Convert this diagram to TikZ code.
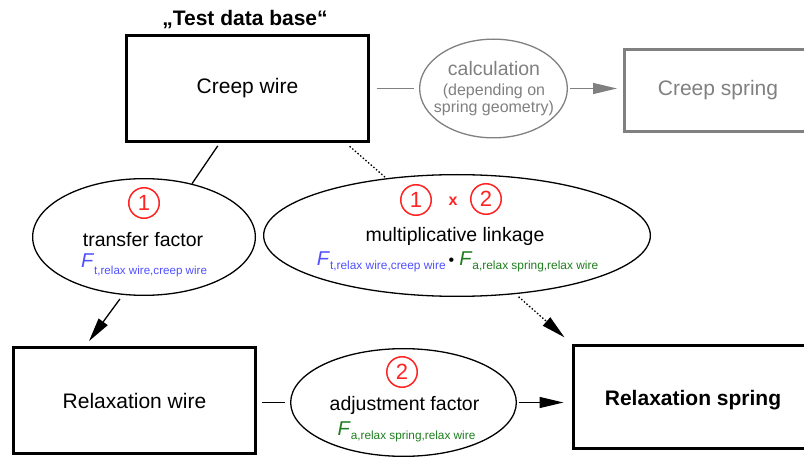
\documentclass[tikz,border=0pt]{standalone}
\usepackage{fontspec}
\setmainfont{Liberation Sans}
\usetikzlibrary{shapes.geometric,arrows.meta}
\definecolor{facblue}{RGB}{80,80,255}
\definecolor{facgreen}{RGB}{30,125,30}
\definecolor{numred}{RGB}{255,35,35}
\newcommand{\pxfont}[1]{\fontsize{#1}{#1}\selectfont}
\newcommand{\factor}[3]{\textit{F}\raisebox{#1}{\pxfont{#2}#3}}

\begin{document}
\begin{tikzpicture}[x=1pt,y=-1pt,
		box/.style={rectangle,draw,line width=3pt,inner sep=0pt,minimum width=242pt,minimum height=106pt,font=\pxfont{21}},
		oval/.style={ellipse,draw,line width=1.3pt,inner sep=0pt},
		num/.style={circle,draw=numred,text=numred,line width=1.5pt,minimum size=30.5pt,inner sep=0pt,font=\pxfont{22}},
		lbl/.style={inner sep=0pt,font=\pxfont{19.5}},
		formula/.style={anchor=base,inner sep=0pt,font=\pxfont{20}},
		link/.style={line width=1.3pt},
		dots/.style={line width=1.3pt,dash pattern=on 1.5pt off 2pt},
		arr/.style={-{Triangle[length=24pt,width=11pt]}}
		]
	\clip (0,0) rectangle (804,457);
	\node [font=\bfseries\pxfont{21}] (title) at (245,20) {„Test data base“};
	\node [box] (cw) at (247.5,88.5) {Creep wire};
	\node [oval,draw=gray,minimum width=147.7pt,minimum height=98.7pt] (calc) at (493.5,88.5) {};
	\node [align=center,text=gray,inner sep=0pt,font=\fontsize{16}{17}\selectfont] (calctxt) at (494,89) {{\pxfont{19.5}calculation}\\[3pt](depending on\\spring geometry)};
	\node [box,draw=gray,minimum width=205.5pt,minimum height=82pt] (cs) at (727.25,90.5) {};
	\node [text=gray,font=\pxfont{21}] (cstxt) at (718,90.5) {Creep spring};

	\node [oval,minimum width=222.7pt,minimum height=116.7pt] (tf) at (144,237) {};
	\node [num] (tfnum) at (144,203) {1};
	\node [lbl] (tflbl) at (143,240) {transfer factor};
	\node [formula,text=facblue] (tfF) at (144,268) {\factor{-7pt}{11.6}{t,relax wire,creep wire}};

	\node [oval,minimum width=386.7pt,minimum height=121.7pt] (ml) at (457,235.5) {};
	\node [num] (mlnum1) at (416,200) {1};
	\node [text=numred,font=\bfseries\pxfont{16}] (mltimes) at (453,201) {x};
	\node [num] (mlnum2) at (486,199) {2};
	\node [lbl] (mllbl) at (455,236) {multiplicative linkage};
	\node [formula] (mlF) at (457.5,266) {\textcolor{facblue}{\factor{-4pt}{11.9}{t,relax wire,creep wire}}\hspace{3pt}{\pxfont{16}\textbullet}\hspace{5pt}\textcolor{facgreen}{\factor{-4pt}{11.9}{a,relax spring,relax wire}}};

	\node [box] (rw) at (134.5,400.5) {Relaxation wire};

	\node [oval,minimum width=225.7pt,minimum height=107.7pt] (af) at (403.5,402.5) {};
	\node [num] (afnum) at (402,372) {2};
	\node [lbl] (aflbl) at (404.5,405) {adjustment factor};
	\node [formula,text=facgreen] (afF) at (406.5,435.7) {\factor{-4pt}{11.8}{a,relax spring,relax wire}};

	\node [box,minimum width=256.5pt,minimum height=103pt] (rs) at (701.75,397) {};
	\node [font=\bfseries\pxfont{21}] (rstxt) at (693,400) {Relaxation spring};

	\draw [link,gray,shorten <=7pt,shorten >=5pt] (cw) -- (calc);
	\draw [link,gray,arr,shorten <=2pt,shorten >=6pt] (calc) -- (calc.east -| cs.west);
	\draw [link,shorten <=3.5pt] (cw.243) -- (tf.48);
	\draw [link,arr,shorten <=5pt,shorten >=6pt] (tf.250) -- (rw.132);
	\draw [dots,shorten <=5pt] (cw.331) -- (ml.141);
	\draw [dots,arr,shorten <=4pt,shorten >=10pt] (ml.315) -- (rs.north west);
	\draw [link,shorten <=4.5pt,shorten >=5pt] (rw.east |- af.west) -- (af.west);
	\draw [link,arr,shorten <=1.5pt,shorten >=8.5pt] (af.east) -- (af.east -| rs.west);
\end{tikzpicture}
\end{document}
